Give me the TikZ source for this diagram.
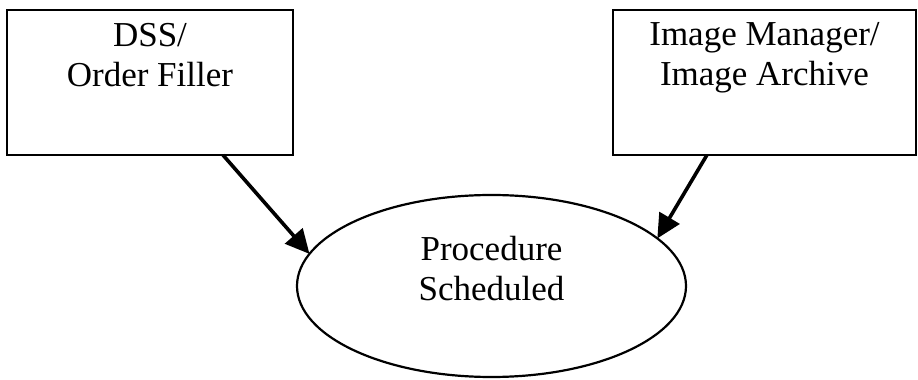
\documentclass[tikz,border=0pt]{standalone}
\usepackage{fontspec}
\setmainfont{Liberation Serif}
\usetikzlibrary{arrows.meta,positioning,calc,shapes.geometric}

\begin{document}
\begin{tikzpicture}[
  x=1pt, y=1pt,
  actorbox/.style={draw=black, line width=2.4pt, rectangle, minimum height=145pt, inner sep=0pt, outer sep=0pt},
  eventoval/.style={draw=black, line width=2.2pt, ellipse, minimum width=389pt, minimum height=182pt, inner sep=0pt, outer sep=0pt},
  boxtext/.style={font=\fontsize{35}{40}\selectfont, align=center, inner sep=0pt},
  ovaltext/.style={font=\fontsize{35}{40}\selectfont, align=center, inner sep=0pt},
  flow/.style={draw=black, line width=3.6pt, -{Triangle[length=24pt,width=23pt]}}
]
  \useasboundingbox (0,0) rectangle (918,380);
  % actors
  \node[actorbox, minimum width=286pt] (dss) at (150,297.5) {};
  \node[actorbox, minimum width=303pt] (imgmgr) at (764.5,297.5) {};
  \node[boxtext, below=13pt of dss.north] (dsslabel) {DSS/\\Order Filler};
  \node[boxtext, below=12pt of imgmgr.north] (imgmgrlabel) {Image Manager/\\Image Archive};
  % event
  \node[eventoval] (proc) at (491.5,94) {};
  \node[ovaltext, below=41pt of proc.north] (proclabel) {Procedure\\Scheduled};
  % transactions
  \draw[flow] ($(dss.south west)!0.755!(dss.south east)$) -- (proc.170);
  \draw[flow] ($(imgmgr.south west)!0.31!(imgmgr.south east)$) -- (proc.16);
\end{tikzpicture}
\end{document}
